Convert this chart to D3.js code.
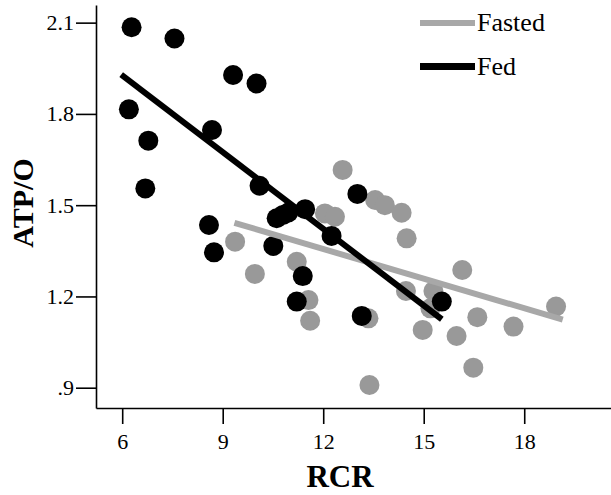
<!DOCTYPE html>
<html>
<head>
<meta charset="utf-8">
<script src="https://cdn.jsdelivr.net/npm/d3@7"></script>
<style>
  body { margin: 0; background: #fff; }
  text { font-family: "Liberation Serif", "Times New Roman", serif; }
</style>
</head>
<body>
<div id="chart"></div>
<script>
// values
var fastedRCR = [9.37, 9.96, 11.21, 11.56, 11.61, 12.05, 12.35, 12.58, 13.35, 13.38, 13.55, 13.84,
                 14.34, 14.47, 14.49, 14.97, 15.2, 15.29, 15.98, 16.15, 16.48, 16.6, 17.68, 18.95];
var fastedATP = [1.38, 1.274, 1.314, 1.188, 1.12, 1.473, 1.462, 1.616, 1.128, 0.909, 1.517, 1.50,
                 1.475, 1.218, 1.391, 1.09, 1.161, 1.218, 1.07, 1.287, 0.966, 1.132, 1.101, 1.167];
var fedRCR = [6.28, 6.2, 6.78, 6.69, 7.56, 8.59, 8.68, 8.74, 9.31, 10.01, 10.1, 10.51,
              10.61, 10.8, 10.96, 11.21, 11.39, 11.46, 12.25, 13.02, 13.15, 15.54];
var fedATP = [2.085, 1.815, 1.712, 1.555, 2.048, 1.435, 1.747, 1.345, 1.928, 1.90, 1.564, 1.366,
              1.457, 1.468, 1.476, 1.183, 1.267, 1.487, 1.399, 1.537, 1.136, 1.183];

// fit line end points
var fastedFitRCR = [9.35, 19.15];
var fastedFitATP = [1.442, 1.124];
var fedFitRCR = [5.97, 15.54];
var fedFitATP = [1.929, 1.125];

var xTicks = [6, 9, 12, 15, 18];
var yTicks = [0.9, 1.2, 1.5, 1.8, 2.1];
var seriesNames = ["Fasted", "Fed"];

var width = 611, height = 495;
var grayDot = "#999999", grayLine = "#a8a8a8";

var svg = d3.select("#chart").append("svg")
    .attr("width", width)
    .attr("height", height);

var x = d3.scaleLinear().domain([5.218, 20.59]).range([96, 611]);
var y = d3.scaleLinear().domain([0.8333, 2.158]).range([408, 5]);

var fmt = function(d){
    var s = d3.format(".1f")(d);
    return d < 1 ? s.replace("0.", ".") : s;
};

// y axis
var yAxis = svg.append("g")
    .attr("transform", "translate(96,0)")
    .call(d3.axisLeft(y).tickValues(yTicks).tickSize(20).tickSizeOuter(0).tickPadding(2).tickFormat(fmt));

// x axis
var xAxis = svg.append("g")
    .attr("transform", "translate(0,408)")
    .call(d3.axisBottom(x).tickValues(xTicks).tickSize(16).tickSizeOuter(0).tickPadding(9).tickFormat(d3.format("d")));

[yAxis, xAxis].forEach(function(g){
    g.selectAll("path, line").style("stroke", "#000").style("stroke-width", 1.6);
    g.selectAll("text")
        .style("font-family", "'Liberation Serif', serif")
        .style("font-size", "22px")
        .style("fill", "#000");
});

// points
var fasted = fastedRCR.map(function(d, i){ return {x: d, y: fastedATP[i]}; });
var fed = fedRCR.map(function(d, i){ return {x: d, y: fedATP[i]}; });

svg.append("g").selectAll("circle")
    .data(fasted)
    .enter().append("circle")
    .attr("cx", function(d){ return x(d.x); })
    .attr("cy", function(d){ return y(d.y); })
    .attr("r", 10)
    .style("fill", grayDot);

svg.append("g").selectAll("circle")
    .data(fed)
    .enter().append("circle")
    .attr("cx", function(d){ return x(d.x); })
    .attr("cy", function(d){ return y(d.y); })
    .attr("r", 10)
    .style("fill", "#000");

// fit lines
svg.append("line")
    .attr("x1", x(fastedFitRCR[0])).attr("y1", y(fastedFitATP[0]))
    .attr("x2", x(fastedFitRCR[1])).attr("y2", y(fastedFitATP[1]))
    .style("stroke", grayLine)
    .style("stroke-width", 6);

svg.append("line")
    .attr("x1", x(fedFitRCR[0])).attr("y1", y(fedFitATP[0]))
    .attr("x2", x(fedFitRCR[1])).attr("y2", y(fedFitATP[1]))
    .style("stroke", "#000")
    .style("stroke-width", 6);

// legend
var legend = svg.append("g").selectAll("g")
    .data(seriesNames)
    .enter().append("g")
    .attr("transform", function(d, i){ return "translate(420," + (23 + i * 43.5) + ")"; });

legend.append("line")
    .attr("x1", 0).attr("x2", 55)
    .style("stroke", function(d, i){ return i == 0 ? grayLine : "#000"; })
    .style("stroke-width", function(d, i){ return i == 0 ? 6 : 7; });

legend.append("text")
    .attr("x", 57)
    .attr("y", 8)
    .style("font-size", "26px")
    .text(function(d){ return d; });

// axis titles
svg.append("text")
    .attr("x", 340)
    .attr("y", 487)
    .attr("text-anchor", "middle")
    .style("font-size", "31px")
    .style("font-weight", "bold")
    .text("RCR");

svg.append("text")
    .attr("transform", "translate(33,203) rotate(-90)")
    .attr("text-anchor", "middle")
    .style("font-size", "30px")
    .style("font-weight", "bold")
    .text("ATP/O");
</script>
</body>
</html>
